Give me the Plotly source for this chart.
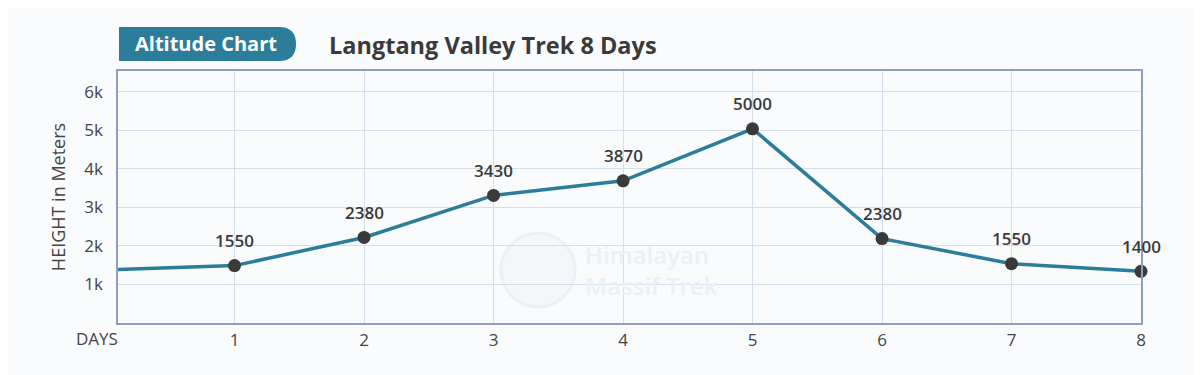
import plotly.graph_objects as go

# Data
days = [0.1, 1, 2, 3, 4, 5, 6, 7, 8]
heights = [1390, 1490, 2220, 3310, 3690, 5040, 2190, 1540, 1340]
label_days = [1, 2, 3, 4, 5, 6, 7, 8]
label_heights = [1490, 2220, 3310, 3690, 5040, 2190, 1540, 1340]
label_texts = ["1550", "2380", "3430", "3870", "5000", "2380", "1550", "1400"]
x_ticks = [1, 2, 3, 4, 5, 6, 7, 8]
y_ticks = [1000, 2000, 3000, 4000, 5000, 6000]
y_tick_text = ["1k", "2k", "3k", "4k", "5k", "6k"]

OFF = 8  # page body margin
W, H = 1193, 367
ML, MR, MT, MB = 110, 60, 63, 52
PW, PH = W - ML - MR, H - MT - MB

def px(x):
    return (x - OFF - ML) / PW

def py(y):
    return (H - MB - (y - OFF)) / PH

BG = "#fafbfd"
TEAL = "#2b7d99"
DARK = "#3a3a3a"
GRID = "#d3dfeb"
TXT = "#444444"

fig = go.Figure()
fig.add_trace(go.Scatter(
    x=days, y=heights, mode="lines",
    line=dict(color=TEAL, width=3.5),
    hoverinfo="skip", showlegend=False, cliponaxis=True,
))
fig.add_trace(go.Scatter(
    x=label_days, y=label_heights, mode="markers",
    marker=dict(color=DARK, size=13),
    showlegend=False, cliponaxis=False,
))

for d, h, t in zip(label_days, label_heights, label_texts):
    fig.add_annotation(x=d, y=h, text=t, showarrow=False, yshift=25,
                       font=dict(family="Open Sans", size=17, color=DARK, weight=600))

# DAYS label
fig.add_annotation(xref="paper", yref="paper", x=px(120), y=py(338), text="DAYS",
                   showarrow=False, xanchor="right", yanchor="middle",
                   font=dict(family="Open Sans", size=17, color=TXT))

# Title badge
x0, x1, y0, y1 = px(119), px(296), py(27), py(61)
r = 17
xr = px(296 - r)
fig.add_shape(type="path", xref="paper", yref="paper",
              path=f"M {x0},{y0} L {xr},{y0} Q {x1},{y0} {x1},{(y0+y1)/2} Q {x1},{y1} {xr},{y1} L {x0},{y1} Z",
              fillcolor=TEAL, line=dict(width=0), layer="above")
fig.add_annotation(xref="paper", yref="paper", x=px(206), y=py(44), text="Altitude Chart",
                   showarrow=False, xanchor="center", yanchor="middle",
                   font=dict(family="Open Sans", size=20, color="white", weight=700))
fig.add_annotation(xref="paper", yref="paper", x=px(327), y=py(45), text="Langtang Valley Trek 8 Days",
                   showarrow=False, xanchor="left", yanchor="middle",
                   font=dict(family="Open Sans", size=23.5, color=DARK, weight=700))

# Watermark
WM = "#ebf0f5"
fig.add_shape(type="circle", xref="paper", yref="paper",
              x0=px(501), x1=px(575), y0=py(307), y1=py(233),
              line=dict(color=WM, width=3), fillcolor="rgba(235,240,245,0.4)", layer="below")
fig.add_annotation(xref="paper", yref="paper", x=px(583), y=py(270), text="Himalayan<br>Massif Trek",
                   showarrow=False, xanchor="left", yanchor="middle", align="left",
                   font=dict(family="Open Sans", size=24, color=WM, weight=600))

fig.update_layout(
    width=W, height=H,
    margin=dict(l=ML, r=MR, t=MT, b=MB),
    paper_bgcolor=BG, plot_bgcolor=BG,
    font=dict(family="Open Sans", color=TXT),
    xaxis=dict(range=[0.1, 8], tickvals=x_ticks, ticktext=[str(v) for v in x_ticks],
               showgrid=True, gridcolor=GRID, gridwidth=1, zeroline=False,
               showline=True, linecolor="#8f9ec0", linewidth=1.5, mirror=True,
               tickfont=dict(size=17, color=TXT), ticks="", ticklabelstandoff=1),
    yaxis=dict(range=[0, 6540], tickvals=y_ticks, ticktext=y_tick_text,
               showgrid=True, gridcolor=GRID, gridwidth=1, zeroline=False,
               showline=True, linecolor="#8f9ec0", linewidth=1.5, mirror=True,
               tickfont=dict(size=17, color=TXT), ticks="", ticklabelstandoff=10,
               title=dict(text="HEIGHT in Meters", font=dict(size=18, color=TXT), standoff=14)),
)

fig.write_html("out.html")
